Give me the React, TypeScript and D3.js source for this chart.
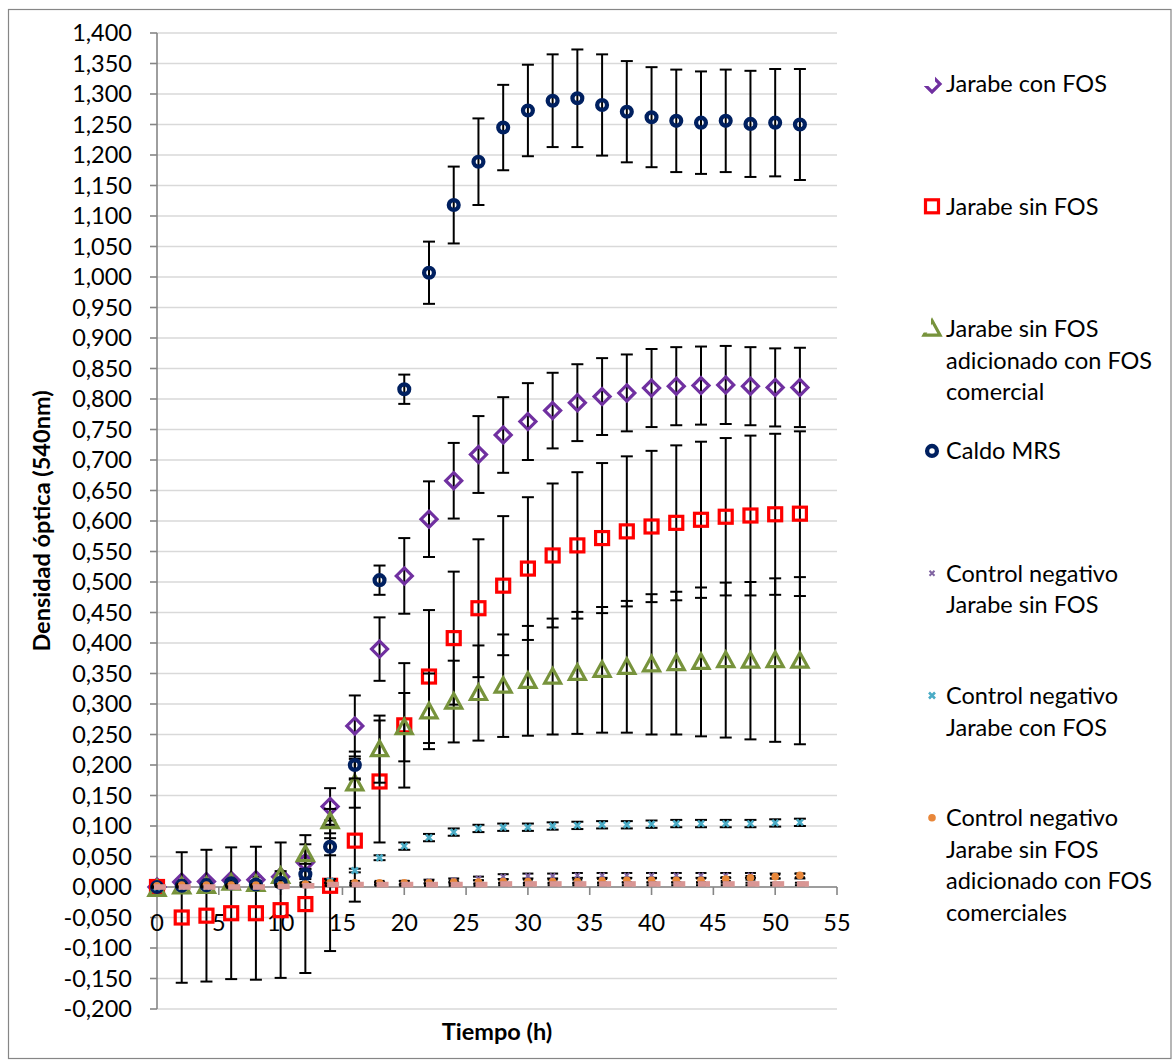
import React from "react";
import * as d3 from "d3";

// Sampling times (h)
const times = [0, 2, 4, 6, 8, 10, 12, 14, 16, 18, 20, 22, 24, 26, 28, 30, 32, 34, 36, 38, 40, 42, 44, 46, 48, 50, 52];

// Optical density at 540 nm, mean and standard deviation per series
const jarabeConFOS = [0, 0.008, 0.009, 0.011, 0.012, 0.017, 0.04, 0.132, 0.264, 0.39, 0.51, 0.603, 0.666, 0.709, 0.741, 0.763, 0.781, 0.794, 0.804, 0.81, 0.818, 0.821, 0.822, 0.823, 0.821, 0.819, 0.819];
const jarabeConFOSErr = [0.002, 0.004, 0.004, 0.005, 0.005, 0.006, 0.01, 0.03, 0.05, 0.052, 0.062, 0.062, 0.062, 0.063, 0.062, 0.063, 0.062, 0.063, 0.063, 0.063, 0.064, 0.064, 0.064, 0.064, 0.064, 0.064, 0.065];

const jarabeSinFOS = [0, -0.05, -0.047, -0.043, -0.043, -0.038, -0.028, 0.002, 0.076, 0.173, 0.265, 0.345, 0.408, 0.457, 0.494, 0.522, 0.5435, 0.56, 0.572, 0.583, 0.591, 0.597, 0.602, 0.607, 0.609, 0.611, 0.612];
const jarabeSinFOSErr = [0, 0.107, 0.108, 0.108, 0.109, 0.111, 0.113, 0.107, 0.1, 0.1, 0.102, 0.109, 0.109, 0.113, 0.114, 0.117, 0.118, 0.12, 0.123, 0.123, 0.124, 0.127, 0.128, 0.129, 0.131, 0.132, 0.135];

const jarabeAdicionado = [-0.003, 0.001, 0.002, 0.007, 0.005, 0.018, 0.054, 0.108, 0.17, 0.226, 0.262, 0.288, 0.304, 0.318, 0.33, 0.338, 0.345, 0.351, 0.356, 0.361, 0.365, 0.367, 0.369, 0.372, 0.371, 0.372, 0.371];
const jarabeAdicionadoErr = [0.002, 0.003, 0.003, 0.004, 0.004, 0.008, 0.016, 0.02, 0.04, 0.055, 0.056, 0.062, 0.067, 0.078, 0.084, 0.09, 0.095, 0.1, 0.103, 0.108, 0.115, 0.117, 0.122, 0.127, 0.129, 0.134, 0.137];

const caldoMRS = [0, 0.002, 0.003, 0.006, 0.004, 0.007, 0.021, 0.066, 0.2, 0.503, 0.816, 1.007, 1.118, 1.189, 1.245, 1.273, 1.289, 1.293, 1.282, 1.271, 1.262, 1.256, 1.253, 1.256, 1.251, 1.253, 1.25];
const caldoMRSErr = [0.001, 0.002, 0.002, 0.002, 0.002, 0.004, 0.008, 0.014, 0.022, 0.024, 0.024, 0.051, 0.063, 0.071, 0.07, 0.075, 0.076, 0.08, 0.083, 0.083, 0.082, 0.084, 0.084, 0.084, 0.087, 0.088, 0.091];

const ctrlSinFOS = [0.001, 0.002, 0.002, 0.002, 0.002, 0.002, 0.003, 0.004, 0.005, 0.006, 0.007, 0.009, 0.011, 0.014, 0.017, 0.018, 0.018, 0.019, 0.019, 0.019, 0.019, 0.019, 0.019, 0.019, 0.019, 0.018, 0.018];
const ctrlSinFOSErr = [0.001, 0.001, 0.001, 0.001, 0.001, 0.001, 0.002, 0.002, 0.002, 0.002, 0.003, 0.003, 0.003, 0.003, 0.004, 0.004, 0.004, 0.004, 0.004, 0.004, 0.004, 0.004, 0.004, 0.004, 0.004, 0.004, 0.004];

const ctrlConFOS = [0, 0.001, 0.001, 0.002, 0.002, 0.003, 0.005, 0.01, 0.027, 0.048, 0.067, 0.081, 0.09, 0.096, 0.098, 0.098, 0.1, 0.101, 0.102, 0.102, 0.103, 0.104, 0.104, 0.104, 0.104, 0.105, 0.106];
const ctrlConFOSErr = [0.001, 0.001, 0.001, 0.001, 0.001, 0.001, 0.002, 0.003, 0.003, 0.004, 0.006, 0.006, 0.006, 0.006, 0.006, 0.006, 0.006, 0.006, 0.006, 0.006, 0.006, 0.006, 0.006, 0.006, 0.006, 0.006, 0.006];

const ctrlComerciales = [0.002, 0.003, 0.003, 0.003, 0.003, 0.003, 0.005, 0.007, 0.007, 0.007, 0.007, 0.007, 0.008, 0.008, 0.009, 0.009, 0.009, 0.009, 0.01, 0.011, 0.011, 0.011, 0.011, 0.013, 0.015, 0.017, 0.019];
const ctrlComercialesErr = [0.002, 0.002, 0.002, 0.002, 0.002, 0.002, 0.003, 0.003, 0.003, 0.003, 0.003, 0.003, 0.003, 0.003, 0.003, 0.003, 0.003, 0.003, 0.003, 0.003, 0.003, 0.003, 0.003, 0.003, 0.003, 0.003, 0.003];

const ctrlExtra = [0, 0, 0, 0, 0, 0.001, 0.002, 0.004, 0.004, 0.004, 0.004, 0.004, 0.004, 0.004, 0.005, 0.005, 0.005, 0.005, 0.005, 0.005, 0.005, 0.005, 0.005, 0.005, 0.005, 0.005, 0.005];
const ctrlExtraErr = [0.001, 0.001, 0.001, 0.001, 0.001, 0.001, 0.001, 0.002, 0.002, 0.002, 0.002, 0.002, 0.002, 0.002, 0.002, 0.002, 0.002, 0.002, 0.002, 0.002, 0.002, 0.002, 0.002, 0.002, 0.002, 0.002, 0.002];

// Axis ticks
const xTicks = [0, 5, 10, 15, 20, 25, 30, 35, 40, 45, 50, 55];
const yTicks = [-0.2, -0.15, -0.1, -0.05, 0, 0.05, 0.1, 0.15, 0.2, 0.25, 0.3, 0.35, 0.4, 0.45, 0.5, 0.55, 0.6, 0.65, 0.7, 0.75, 0.8, 0.85, 0.9, 0.95, 1.0, 1.05, 1.1, 1.15, 1.2, 1.25, 1.3, 1.35, 1.4];

type Shape = "diamond" | "square" | "triangle" | "circle" | "xsmall" | "xteal" | "dot" | "dash";

interface Series {
  name: string[];
  values: number[];
  errors: number[];
  color: string;
  shape: Shape;
  cap: number;
  legend: boolean;
}

const series: Series[] = [
  { name: ["Jarabe con FOS"], values: jarabeConFOS, errors: jarabeConFOSErr, color: "#7030a0", shape: "diamond", cap: 12, legend: true },
  { name: ["Jarabe sin FOS"], values: jarabeSinFOS, errors: jarabeSinFOSErr, color: "#ff0000", shape: "square", cap: 12, legend: true },
  { name: ["Jarabe sin FOS", "adicionado con FOS", "comercial"], values: jarabeAdicionado, errors: jarabeAdicionadoErr, color: "#77933c", shape: "triangle", cap: 12, legend: true },
  { name: ["Caldo MRS"], values: caldoMRS, errors: caldoMRSErr, color: "#002060", shape: "circle", cap: 12, legend: true },
  { name: ["Control negativo", "Jarabe sin FOS"], values: ctrlSinFOS, errors: ctrlSinFOSErr, color: "#8064a2", shape: "xsmall", cap: 11, legend: true },
  { name: ["Control negativo", "Jarabe con FOS"], values: ctrlConFOS, errors: ctrlConFOSErr, color: "#4bacc6", shape: "xteal", cap: 12, legend: true },
  { name: ["Control negativo", "Jarabe sin FOS", "adicionado con FOS", "comerciales"], values: ctrlComerciales, errors: ctrlComercialesErr, color: "#e8873a", shape: "dot", cap: 10, legend: true },
  { name: [], values: ctrlExtra, errors: ctrlExtraErr, color: "#d99694", shape: "dash", cap: 10, legend: false },
];

const W = 1173;
const H = 1061;
const FONT = "Lato, 'Open Sans', sans-serif";

const x = d3.scaleLinear().domain([0, 55]).range([157, 837]);
const y = d3.scaleLinear().domain([-0.2, 1.4]).range([1009, 33]);

const fmt = d3
  .formatLocale({ decimal: ",", thousands: ".", grouping: [3], currency: ["", ""], minus: "-" })
  .format(".3f");

function Marker({ shape, color, cx, cy }: { shape: Shape; color: string; cx: number; cy: number }) {
  const t = `translate(${cx},${cy})`;
  switch (shape) {
    case "diamond":
      return <path transform={t} d="M0,-8 L8,0 L0,8 L-8,0 Z" fill="none" stroke={color} strokeWidth={3.2} />;
    case "square":
      return <rect x={cx - 6.5} y={cy - 6.5} width={13} height={13} fill="none" stroke={color} strokeWidth={3.2} />;
    case "triangle":
      return <path transform={t} d="M0,-8 L8,6.5 L-8,6.5 Z" fill="none" stroke={color} strokeWidth={3.2} strokeLinejoin="miter" />;
    case "circle":
      return <circle cx={cx} cy={cy} r={4.9} fill="none" stroke={color} strokeWidth={4.3} />;
    case "xsmall":
      return <path transform={t} d="M-2.5,-2.5 L2.5,2.5 M-2.5,2.5 L2.5,-2.5" stroke={color} strokeWidth={2} />;
    case "xteal":
      return <path transform={t} d="M-3,-3 L3,3 M-3,3 L3,-3" stroke={color} strokeWidth={2.6} />;
    case "dot":
      return <circle cx={cx} cy={cy} r={3.8} fill={color} />;
    case "dash":
      return <rect x={cx - 3} y={cy - 2.8} width={12} height={5.6} fill={color} />;
  }
  return null;
}

function SeriesLayer({ s }: { s: Series }) {
  return (
    <g>
      {times.map((t, i) => {
        const cx = x(t);
        const v = s.values[i];
        const e = s.errors[i];
        const top = y(v + e);
        const bot = y(v - e);
        const hw = s.cap / 2;
        return (
          <g key={`e${i}`} stroke="#000" strokeWidth={2}>
            <line x1={cx} x2={cx} y1={top} y2={bot} />
            <line x1={cx - hw} x2={cx + hw} y1={top} y2={top} />
            <line x1={cx - hw} x2={cx + hw} y1={bot} y2={bot} />
          </g>
        );
      })}
      {times.map((t, i) => (
        <Marker key={`m${i}`} shape={s.shape} color={s.color} cx={x(t)} cy={y(s.values[i])} />
      ))}
    </g>
  );
}

export default function App() {
  const legendItems = series.filter((s) => s.legend);
  const legendX = 932;
  const legendTextX = 946;
  const legendTop = 84;
  const legendStep = 122.3;
  const lineH = 31.6;

  return (
    <div style={{ position: "absolute", left: 0, top: 0 }}>
      <svg width={W} height={H} viewBox={`0 0 ${W} ${H}`} style={{ display: "block", background: "#fff" }}>
        <defs>
          <clipPath id="clip-diamond">
            <rect x={legendX + 3} y={legendTop - 12} width={10} height={24} />
            <rect x={legendX - 12} y={legendTop + 2} width={24} height={10} />
          </clipPath>
          <clipPath id="clip-triangle">
            <rect x={legendX - 1} y={legendTop + 2 * legendStep - 12} width={13} height={24} />
            <rect x={legendX - 12} y={legendTop + 2 * legendStep + 4} width={24} height={10} />
          </clipPath>
        </defs>

        {/* chart frame */}
        <rect x={8.5} y={9.5} width={1162.5} height={1049} fill="#fff" stroke="#868686" strokeWidth={1.2} />

        {/* horizontal gridlines */}
        <g>
          {yTicks.map((v) => (
            <line key={v} x1={x(0)} x2={x(55)} y1={y(v)} y2={y(v)} stroke="#d9d9d9" strokeWidth={1.6} />
          ))}
        </g>

        {/* y axis */}
        <g fontFamily={FONT} fontSize={23.5} fill="#000">
          <line x1={x(0)} x2={x(0)} y1={y(1.4)} y2={y(-0.2)} stroke="#868686" strokeWidth={1.6} />
          {yTicks.map((v) => (
            <g key={v}>
              <line x1={x(0) - 7} x2={x(0)} y1={y(v)} y2={y(v)} stroke="#868686" strokeWidth={1.6} />
              <text x={132} y={y(v)} dy="0.36em" textAnchor="end">
                {fmt(v)}
              </text>
            </g>
          ))}
        </g>

        {/* x axis crossing at zero */}
        <g fontFamily={FONT} fontSize={23.5} fill="#000">
          <line x1={x(0)} x2={x(55)} y1={y(0)} y2={y(0)} stroke="#868686" strokeWidth={1.6} />
          {xTicks.map((t) => (
            <g key={t}>
              <line x1={x(t)} x2={x(t)} y1={y(0)} y2={y(0) + 8} stroke="#868686" strokeWidth={1.6} />
              <text x={x(t)} y={923} dy="0.36em" textAnchor="middle">
                {t}
              </text>
            </g>
          ))}
        </g>

        {/* series */}
        {series.map((s, i) => (
          <SeriesLayer key={i} s={s} />
        ))}

        {/* axis titles */}
        <text x={(x(0) + x(55)) / 2} y={1032} dy="0.36em" textAnchor="middle" fontFamily={FONT} fontSize={23.5} fontWeight="bold">
          Tiempo (h)
        </text>
        <text
          transform={`translate(42,${(y(1.4) + y(-0.2)) / 2}) rotate(-90)`}
          dy="0.36em"
          textAnchor="middle"
          fontFamily={FONT}
          fontSize={23.5}
          fontWeight="bold"
        >
          Densidad óptica (540nm)
        </text>

        {/* legend */}
        <g fontFamily={FONT} fontSize={23.5} fill="#000">
          {legendItems.map((s, i) => {
            const cy = legendTop + i * legendStep;
            const clip = s.shape === "diamond" ? "url(#clip-diamond)" : s.shape === "triangle" ? "url(#clip-triangle)" : undefined;
            return (
              <g key={i}>
                <g clipPath={clip}>
                  <Marker shape={s.shape} color={s.color} cx={legendX} cy={cy} />
                </g>
                {s.name.map((line, j) => (
                  <text key={j} x={legendTextX} y={cy + j * lineH} dy="0.36em">
                    {line}
                  </text>
                ))}
              </g>
            );
          })}
        </g>
      </svg>
    </div>
  );
}
